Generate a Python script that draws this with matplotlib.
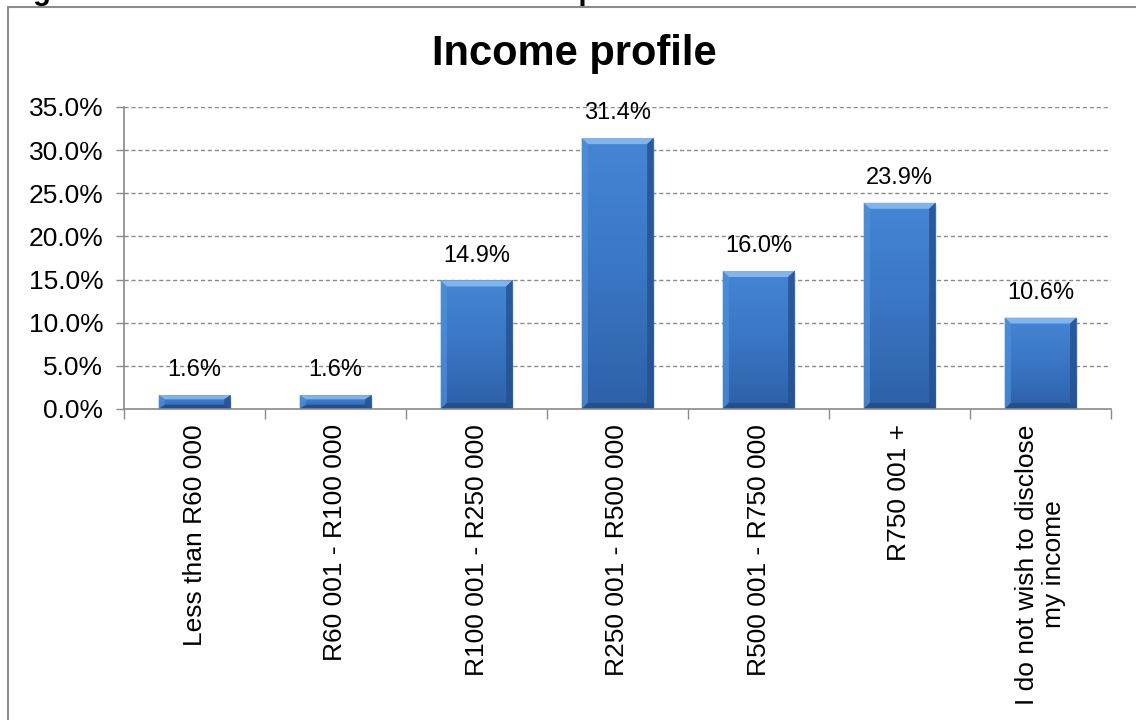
import numpy as np
import matplotlib
matplotlib.use("Agg")
import matplotlib.pyplot as plt
from matplotlib.patches import Rectangle, Polygon
from matplotlib.colors import LinearSegmentedColormap

plt.rcParams["font.family"] = ["Liberation Sans", "DejaVu Sans"]

# income bands and share of respondents
categories = [
    "Less than R60 000",
    "R60 001 - R100 000",
    "R100 001 - R250 000",
    "R250 001 - R500 000",
    "R500 001 - R750 000",
    "R750 001 +",
    "I do not wish to disclose\nmy income",
]
shares = [1.6, 1.6, 14.9, 31.4, 16.0, 23.9, 10.6]
y_ticks = [0, 5, 10, 15, 20, 25, 30, 35]

W, H = 1136, 720
fig = plt.figure(figsize=(W / 100, H / 100), dpi=100)
fig.patch.set_facecolor("white")

# chart border (runs off the right and bottom edge of the page)
border = Rectangle((8 / W, -0.2), 1.2, 0.2 + 1 - 7 / H,
                   transform=fig.transFigure, fill=False,
                   edgecolor="#8c8c8c", linewidth=1.5, zorder=0)
fig.patches.append(border)

# caption line above the chart, mostly cut off by the page edge
fig.text(7 / W, 1 - 0.5 / H, "Figure 10: Income distribution of the sample",
         fontsize=21, fontweight="bold", va="baseline", ha="left")

ax = fig.add_axes([124 / W, 1 - 409 / H, (1111 - 124) / W, (409 - 107) / H])
ax.set_xlim(0, len(categories))
ax.set_ylim(0, 35)

fig.text(574 / W, 1 - 65 / H, "Income profile", fontsize=30,
         fontweight="bold", ha="center", va="baseline")

# gridlines
for t in y_ticks[1:]:
    ax.axhline(t, color="#8a8a8a", linestyle=(0, (3, 2)), linewidth=1.0,
               zorder=1)

ax.set_yticks(y_ticks)
ax.set_yticklabels([f"{t:.1f}%" for t in y_ticks], fontsize=19)
ax.tick_params(axis="y", direction="out", length=6, width=1,
               color="#8a8a8a", pad=9)

centers = np.arange(len(categories)) + 0.5
ax.set_xticks(centers)
ax.set_xticklabels(categories, rotation=90, fontsize=19, va="top",
                   ha="center", multialignment="center")
ax.set_xticks(np.arange(len(categories) + 1), minor=True)
ax.tick_params(axis="x", which="major", length=0, pad=11)
ax.tick_params(axis="x", which="minor", direction="out", length=7,
               width=1, color="#8a8a8a")

for side in ["top", "right"]:
    ax.spines[side].set_visible(False)
for side in ["left", "bottom"]:
    ax.spines[side].set_color("#8a8a8a")
    ax.spines[side].set_linewidth(1.2)
    ax.spines[side].set_zorder(4)

# bevelled gradient bars
body = LinearSegmentedColormap.from_list(
    "body", ["#2d61a8", "#3a76c4", "#4586d4"])
bar_w = 0.51
bx = 0.045  # bevel width in category units
by = 0.7    # bevel height in percent units
grad = np.linspace(0, 1, 100).reshape(-1, 1)

for c, v in zip(centers, shares):
    x0, x1 = c - bar_w / 2, c + bar_w / 2
    # soft shadow
    ax.add_patch(Rectangle((x0 + 0.012, -0.3), bar_w, v + 0.1,
                           facecolor="#000000", alpha=0.10,
                           edgecolor="none", zorder=2))
    rect = Rectangle((x0, 0), bar_w, v, facecolor="none",
                     edgecolor="none", zorder=3)
    ax.add_patch(rect)
    im = ax.imshow(grad, cmap=body, extent=(x0, x1, 0, v), aspect="auto",
                   origin="lower", zorder=3)
    im.set_clip_path(rect)
    b = min(by, v * 0.3)
    # top bevel
    ax.add_patch(Polygon([(x0, v), (x1, v), (x1 - bx, v - b), (x0 + bx, v - b)],
                         closed=True, facecolor="#7fb4ee",
                         edgecolor="none", zorder=3.5))
    # left and right bevels
    ax.add_patch(Polygon([(x0, v), (x0 + bx, v - b), (x0 + bx, b), (x0, 0)],
                         closed=True, facecolor="#5090da",
                         edgecolor="none", alpha=0.7, zorder=3.5))
    ax.add_patch(Polygon([(x1, v), (x1 - bx, v - b), (x1 - bx, b), (x1, 0)],
                         closed=True, facecolor="#24508e",
                         edgecolor="none", alpha=0.8, zorder=3.5))
    # bottom bevel
    ax.add_patch(Polygon([(x0, 0), (x1, 0), (x1 - bx, b), (x0 + bx, b)],
                         closed=True, facecolor="#264f88",
                         edgecolor="none", zorder=3.5))
    ax.annotate(f"{v:.1f}%", (c, v), xytext=(0, 10),
                textcoords="offset points", ha="center", va="bottom",
                fontsize=17, zorder=5)

fig.savefig("out.png", dpi=100)
